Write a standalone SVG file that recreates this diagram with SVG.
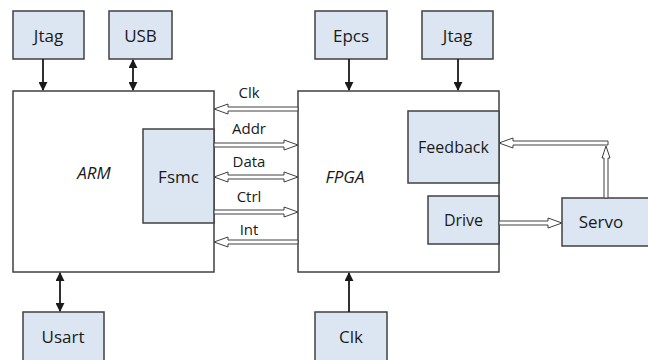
<svg xmlns="http://www.w3.org/2000/svg" width="648" height="360" viewBox="0 0 648 360">
<defs>
<style>
.box{fill:#dce6f2;stroke:#404040;stroke-width:1.5}
.big{fill:#fff;stroke:#404040;stroke-width:1.5}
.t{font-family:"Open Sans","Noto Sans",sans-serif;font-size:17px;fill:#1a1a1a;text-anchor:middle;dominant-baseline:central}
.s{font-size:16px}
.b{font-size:15px}
.i{font-style:italic;font-size:17px}
.ln{stroke:#1a1a1a;stroke-width:1.8;fill:none}
.ho{fill:#fff;stroke:#404040;stroke-width:1;stroke-linejoin:miter}
</style>
<marker id="ah" viewBox="0 0 10 10" refX="9" refY="5" markerWidth="9" markerHeight="9" markerUnits="userSpaceOnUse" orient="auto-start-reverse">
<path d="M0,0 L10,5 L0,10 z" fill="#1a1a1a"/>
</marker>
</defs>
<rect width="648" height="360" fill="#fff"/>
<g id="arm"><rect class="big" x="13" y="91" width="201" height="181"/><text class="t i" x="94" y="172">ARM</text></g>
<g id="fsmc"><rect class="box" x="143" y="129" width="71" height="94"/><text class="t" x="178.5" y="176">Fsmc</text></g>
<g id="fpga"><rect class="big" x="298" y="91" width="201" height="181"/><text class="t i" x="345" y="176">FPGA</text></g>
<g id="feedback"><rect class="box" x="408" y="111" width="91" height="72"/><text class="t s" x="453.5" y="147">Feedback</text></g>
<g id="drive"><rect class="box" x="428" y="196" width="71" height="48"/><text class="t s" x="463.5" y="220">Drive</text></g>
<g id="servo"><rect class="box" x="562" y="198" width="100" height="48"/><text class="t" x="601" y="221">Servo</text></g>
<g id="jtag1"><rect class="box" x="13" y="11" width="71" height="48"/><text class="t" x="48.5" y="35">Jtag</text></g>
<g id="usb"><rect class="box" x="109" y="11" width="63" height="48"/><text class="t" x="140.5" y="35">USB</text></g>
<g id="epcs"><rect class="box" x="315" y="11" width="72" height="48"/><text class="t" x="351" y="35">Epcs</text></g>
<g id="jtag2"><rect class="box" x="422" y="11" width="71" height="48"/><text class="t" x="457.5" y="35">Jtag</text></g>
<g id="usart"><rect class="box" x="23" y="312" width="81" height="60"/><text class="t" x="63" y="336">Usart</text></g>
<g id="clk"><rect class="box" x="315" y="312" width="72" height="60"/><text class="t" x="351" y="336">Clk</text></g>
<g id="connectors">
<line class="ln" x1="43" y1="59" x2="43" y2="90" marker-end="url(#ah)"/>
<line class="ln" x1="133" y1="60" x2="133" y2="90" marker-start="url(#ah)" marker-end="url(#ah)"/>
<line class="ln" x1="349" y1="59" x2="349" y2="90" marker-end="url(#ah)"/>
<line class="ln" x1="458" y1="59" x2="458" y2="90" marker-end="url(#ah)"/>
<line class="ln" x1="60" y1="273" x2="60" y2="311" marker-start="url(#ah)" marker-end="url(#ah)"/>
<line class="ln" x1="349" y1="312" x2="349" y2="273" marker-end="url(#ah)"/>
<polygon class="ho" points="214,109 228,104 228,107 298,107 298,111 228,111 228,114"/>
<polygon class="ho" points="298,145 284,140 284,143 214,143 214,147 284,147 284,150"/>
<polygon class="ho" points="214,177 228,172 228,175 284,175 284,172 298,177 284,182 284,179 228,179 228,182"/>
<polygon class="ho" points="298,212 284,207 284,210 214,210 214,214 284,214 284,217"/>
<polygon class="ho" points="214,242 228,237 228,240 298,240 298,244 228,244 228,247"/>
<polygon class="ho" points="562,223 548,218 548,221 499,221 499,225 548,225 548,228"/>
<polygon class="ho" points="606,146 610,158 608,158 608,198 604,198 604,158 602,158"/>
<polygon class="ho" points="499,143 513,138 513,141 608,141 608,145 513,145 513,148"/>
<text class="t b" x="249" y="92">Clk</text>
<text class="t b" x="249" y="128">Addr</text>
<text class="t b" x="249" y="161">Data</text>
<text class="t b" x="249" y="196">Ctrl</text>
<text class="t b" x="249" y="229">Int</text>
</g>
</svg>
